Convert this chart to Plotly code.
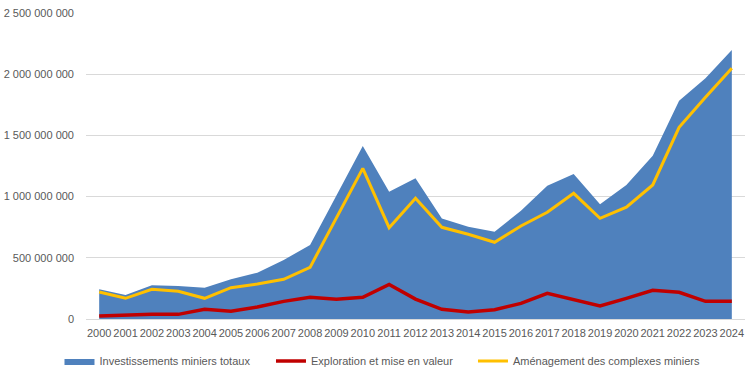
import plotly.graph_objects as go

years = [str(y) for y in range(2000, 2025)]
total = [243e6, 196e6, 275e6, 270e6, 256e6, 324e6, 378e6, 482e6, 605e6, 1005e6,
         1413e6, 1040e6, 1149e6, 822e6, 754e6, 713e6, 885e6, 1089e6, 1185e6, 937e6,
         1095e6, 1334e6, 1784e6, 1966e6, 2198e6]
exploration = [25e6, 33e6, 38e6, 38e6, 79e6, 63e6, 98e6, 144e6, 177e6, 161e6,
               177e6, 283e6, 163e6, 79e6, 57e6, 76e6, 128e6, 210e6, 155e6, 106e6,
               169e6, 234e6, 218e6, 144e6, 144e6]
amenagement = [221e6, 169e6, 243e6, 226e6, 169e6, 256e6, 286e6, 324e6, 422e6, 830e6,
               1231e6, 746e6, 986e6, 749e6, 692e6, 627e6, 760e6, 872e6, 1027e6, 823e6,
               913e6, 1095e6, 1566e6, 1811e6, 2048e6]
ytick_vals = [0, 500e6, 1000e6, 1500e6, 2000e6, 2500e6]
ytick_text = ["0", "500 000 000", "1 000 000 000", "1 500 000 000", "2 000 000 000", "2 500 000 000"]

fig = go.Figure()
fig.add_trace(go.Scatter(x=years, y=total, name="Investissements miniers totaux",
                         mode="lines", line=dict(width=0, color="#4f81bd"),
                         fill="tozeroy", fillcolor="#4f81bd", legend="legend"))
fig.add_trace(go.Scatter(x=years, y=exploration, name="Exploration et mise en valeur",
                         mode="lines", line=dict(width=3.5, color="#c00000"), legend="legend2"))
fig.add_trace(go.Scatter(x=years, y=amenagement, name="Aménagement des complexes miniers",
                         mode="lines", line=dict(width=3, color="#ffc000"), legend="legend3"))

def leg(x):
    return dict(orientation="h", xref="container", yref="container",
                x=x, xanchor="left", y=0.0348, yanchor="middle",
                font=dict(size=11, color="#595959"), itemwidth=30,
                bgcolor="rgba(0,0,0,0)")

fig.update_layout(
    width=754, height=374,
    margin=dict(l=86, r=9, t=13, b=55),
    paper_bgcolor="white", plot_bgcolor="white",
    font=dict(family="Liberation Sans, Arial", size=11, color="#595959"),
    showlegend=True,
    legend=leg(0.0789), legend2=leg(0.3594), legend3=leg(0.6273),
    xaxis=dict(type="category", range=[-0.5, 24.5], showgrid=False, showline=False,
               ticks="", tickangle=0, tickfont=dict(size=11), automargin=False,
               ticklabelstandoff=6),
    yaxis=dict(range=[0, 2500e6], tickvals=ytick_vals, ticktext=ytick_text,
               showgrid=True, gridcolor="#d9d9d9", gridwidth=1, zeroline=True,
               zerolinecolor="#d9d9d9", zerolinewidth=1, showline=False, ticks="",
               ticklabelstandoff=11, tickfont=dict(size=11), automargin=False),
)
fig.write_html("out.html", config={"displayModeBar": False},
               post_script="document.body.style.margin='0';")
